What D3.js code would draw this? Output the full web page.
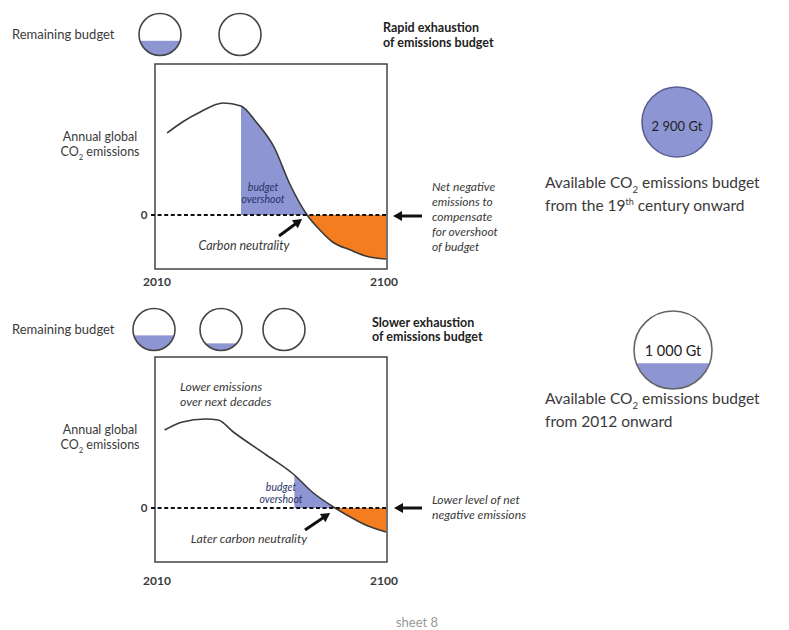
<!DOCTYPE html>
<html><head><meta charset="utf-8">
<script src="https://cdn.jsdelivr.net/npm/d3@7"></script>
<style>
html,body{margin:0;padding:0;background:#fff;}
svg{display:block;font-family:Lato,"Open Sans",sans-serif;}
</style></head><body>
<svg id="c" width="789" height="630"></svg>
<script>
// ---------- data ----------
const xTicks = [2010, 2100];
const yearsRapid = [2014, 2020, 2027, 2036, 2043, 2049, 2056, 2062, 2069, 2074, 2079, 2086, 2092, 2100];
const emissionsRapid = [8.2, 9.3, 10.3, 11.2, 10.9, 9.3, 6.8, 3.2, 0, -1.5, -2.7, -3.5, -4.1, -4.4];
const overshootRapid = [2043, 2069];
const negativeRapid = [2069, 2100];
const yearsSlow = [2013, 2020, 2029, 2034, 2040, 2053, 2064, 2071, 2080, 2086, 2092, 2100];
const emissionsSlow = [7.8, 8.6, 8.9, 8.8, 7.6, 5.3, 3.3, 1.6, 0, -0.9, -1.7, -2.4];
const overshootSlow = [2064, 2080];
const negativeSlow = [2080, 2100];
const remainingRapid = [0.35, 0];
const remainingSlow = [0.36, 0.17, 0];
const budgetLabels = ["2 900 Gt", "1 000 Gt"];
const budgetFill = [1, 0.33];

const BLUE = "#8e95d3", ORANGE = "#f47d20", INK = "#3a3a3a";
const svg = d3.select("#c");
const defs = svg.append("defs");

function arrow(g, x1, y1, x2, y2) {
  const dx = x2 - x1, dy = y2 - y1, L = Math.hypot(dx, dy);
  const ux = dx / L, uy = dy / L, hl = 9, hw = 5;
  const bx = x2 - ux * hl, by = y2 - uy * hl;
  g.append("line").attr("x1", x1).attr("y1", y1).attr("x2", bx + ux).attr("y2", by + uy)
    .attr("stroke", "#111").attr("stroke-width", 3);
  g.append("path").attr("d", `M${x2},${y2}L${bx - uy * hw},${by + ux * hw}L${bx + uy * hw},${by - ux * hw}Z`)
    .attr("fill", "#111");
}

function co2(t, x, y, size, anchor, pre, post, weight) {
  const tx = t.append("text").attr("x", x).attr("y", y).attr("font-size", size)
    .attr("fill", INK).attr("text-anchor", anchor || "start");
  if (weight) tx.attr("font-weight", weight);
  tx.append("tspan").text(pre + "CO");
  tx.append("tspan").attr("dy", size * 0.3).attr("font-size", size * 0.62).text("2");
  tx.append("tspan").attr("dy", -size * 0.3).text(post);
  return tx;
}

function panel(id, off, years, values, over, neg, remaining, circlesX, circleY, title, yearBase) {
  const g = svg.append("g");
  const box = {x0: 155, x1: 387, y0: 64 + off, y1: 269 + off};
  const zero = 215 + off;
  const x = d3.scaleLinear().domain([2010, 2100]).range([157, 386]);
  const y = d3.scaleLinear().domain([0, 10]).range([zero, zero - 100]);
  const pts = years.map((d, i) => [d, values[i]]);
  const line = d3.line().x(d => x(d[0])).y(d => y(d[1])).curve(d3.curveMonotoneX);
  const area = d3.area().x(d => x(d[0])).y0(y(0)).y1(d => y(d[1])).curve(d3.curveMonotoneX);

  // remaining budget circles
  g.append("text").attr("x", 12).attr("y", circleY + 4.5).attr("font-size", 13).attr("fill", INK).text("Remaining budget");
  remaining.forEach((f, i) => {
    const cx = circlesX[i], r = 21;
    const cid = id + "cc" + i;
    defs.append("clipPath").attr("id", cid).append("circle").attr("cx", cx).attr("cy", circleY).attr("r", r);
    if (f > 0) g.append("rect").attr("clip-path", `url(#${cid})`).attr("x", cx - r).attr("width", 2 * r)
      .attr("y", circleY + r - f * 2 * r).attr("height", f * 2 * r).attr("fill", BLUE);
    g.append("circle").attr("cx", cx).attr("cy", circleY).attr("r", r).attr("fill", "none")
      .attr("stroke", "#444").attr("stroke-width", 1.6);
  });
  title.forEach((t, i) => g.append("text").attr("x", t[0]).attr("y", t[1]).attr("font-size", 12.5)
    .attr("font-weight", "bold").attr("fill", "#222").text(t[2]));

  // fills
  const clipO = id + "co", clipN = id + "cn";
  defs.append("clipPath").attr("id", clipO).append("rect").attr("x", x(over[0])).attr("width", x(over[1]) - x(over[0]))
    .attr("y", box.y0).attr("height", box.y1 - box.y0);
  defs.append("clipPath").attr("id", clipN).append("rect").attr("x", x(neg[0])).attr("width", x(neg[1]) - x(neg[0]) + 2)
    .attr("y", box.y0).attr("height", box.y1 - box.y0);
  g.append("path").attr("d", area(pts)).attr("fill", BLUE).attr("clip-path", `url(#${clipO})`);
  g.append("path").attr("d", area(pts)).attr("fill", ORANGE).attr("clip-path", `url(#${clipN})`);

  // box
  g.append("rect").attr("x", box.x0).attr("y", box.y0).attr("width", box.x1 - box.x0).attr("height", box.y1 - box.y0)
    .attr("fill", "none").attr("stroke", "#444").attr("stroke-width", 1.5);
  // curve
  g.append("path").attr("d", line(pts)).attr("fill", "none").attr("stroke", INK).attr("stroke-width", 1.6);
  // zero line
  g.append("line").attr("x1", 151).attr("x2", box.x1).attr("y1", y(0)).attr("y2", y(0))
    .attr("stroke", "#111").attr("stroke-width", 2).attr("stroke-dasharray", "4,2.6");
  g.append("text").attr("x", 144).attr("y", y(0) + 4).attr("font-size", 11.5).attr("font-weight", "bold")
    .attr("fill", INK).attr("text-anchor", "middle").text("0");

  // axis labels
  g.selectAll(".yr").data(xTicks).enter().append("text")
    .attr("x", d => x(d) - (d === 2100 ? 2 : 0)).attr("y", yearBase).attr("text-anchor", "middle")
    .attr("font-size", 12).attr("font-weight", "bold").attr("fill", INK).text(d => d);
  g.append("text").attr("x", 100).attr("y", 141 + off).attr("font-size", 12.5).attr("fill", INK)
    .attr("text-anchor", "middle").text("Annual global");
  co2(g, 100, 156 + off, 12.5, "middle", "", " emissions");

  return {g, x, y, zero};
}

function italic(g, x, y, lines, size, fill, anchor, lh) {
  lines.forEach((l, i) => g.append("text").attr("x", x).attr("y", y + i * (lh || 15))
    .attr("font-size", size).attr("font-style", "italic").attr("fill", fill || INK)
    .attr("text-anchor", anchor || "start").text(l));
}

// ---------- top panel ----------
const A = panel("a", 0, yearsRapid, emissionsRapid, overshootRapid, negativeRapid, remainingRapid,
  [160, 240], 34.5, [[383, 32, "Rapid exhaustion"], [383, 47, "of emissions budget"]], 286);
italic(A.g, 263, 191, ["budget", "overshoot"], 10.5, "#2b3266", "middle", 12);
italic(A.g, 244, 250, ["Carbon neutrality"], 12.5, INK, "middle");
arrow(A.g, 279, 236, A.x(overshootRapid[1]) - 5, A.zero + 4);
arrow(A.g, 422, A.zero + 1, 393, A.zero + 1);
italic(A.g, 432, 191, ["Net negative", "emissions to", "compensate", "for overshoot", "of budget"], 12, INK, "start", 15);

// ---------- bottom panel ----------
const B = panel("b", 293, yearsSlow, emissionsSlow, overshootSlow, negativeSlow, remainingSlow,
  [154, 221, 284], 329.5, [[372, 327, "Slower exhaustion"], [372, 341, "of emissions budget"]], 585);
italic(B.g, 180, 391, ["Lower emissions", "over next decades"], 12.3, INK, "start", 15);
italic(B.g, 281, 491, ["budget", "overshoot"], 10.5, "#2b3266", "middle", 12);
italic(B.g, 249, 543, ["Later carbon neutrality"], 12.3, INK, "middle");
arrow(B.g, 305, 530, B.x(overshootSlow[1]) - 5, B.zero + 5);
arrow(B.g, 422, B.zero, 394, B.zero);
italic(B.g, 432, 504, ["Lower level of net", "negative emissions"], 12.2, INK, "start", 15);

// ---------- budget circles (right) ----------
const bud = [{cx: 677, cy: 122, r: 35, ty: 131, ts: 13, stroke: "#5a5f92", lines: [["Available ", " emissions budget"], ["from the 19", "th", " century onward"]], ly: 188},
             {cx: 673, cy: 350, r: 39, ty: 356, ts: 14.5, stroke: "#666", lines: [["Available ", " emissions budget"], ["from 2012 onward"]], ly: 404}];
bud.forEach((b, i) => {
  const g = svg.append("g");
  const cid = "bud" + i;
  defs.append("clipPath").attr("id", cid).append("circle").attr("cx", b.cx).attr("cy", b.cy).attr("r", b.r);
  const f = budgetFill[i];
  g.append("rect").attr("clip-path", `url(#${cid})`).attr("x", b.cx - b.r).attr("width", 2 * b.r)
    .attr("y", b.cy + b.r - f * 2 * b.r).attr("height", f * 2 * b.r).attr("fill", BLUE);
  g.append("circle").attr("cx", b.cx).attr("cy", b.cy).attr("r", b.r).attr("fill", "none")
    .attr("stroke", b.stroke).attr("stroke-width", 1.6);
  g.append("text").attr("x", b.cx).attr("y", b.ty).attr("text-anchor", "middle").attr("font-size", b.ts)
    .attr("fill", "#222").text(budgetLabels[i]);
  co2(g, 545, b.ly, 15.5, "start", b.lines[0][0], b.lines[0][1]);
  const t2 = g.append("text").attr("x", 545).attr("y", b.ly + 23).attr("font-size", 15.5).attr("fill", INK);
  if (b.lines[1].length === 3) {
    t2.append("tspan").text(b.lines[1][0]);
    t2.append("tspan").attr("dy", -6).attr("font-size", 9).text(b.lines[1][1]);
    t2.append("tspan").attr("dy", 6).text(b.lines[1][2]);
  } else t2.text(b.lines[1][0]);
});

svg.append("text").attr("x", 417).attr("y", 627).attr("text-anchor", "middle").attr("font-size", 13)
  .attr("fill", "#999").text("sheet 8");
</script>
</body></html>
